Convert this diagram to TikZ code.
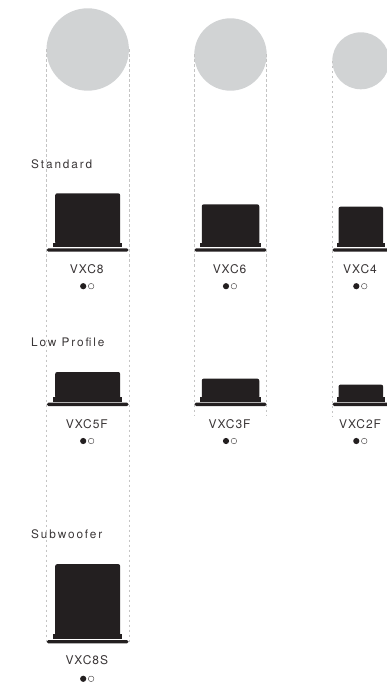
\documentclass[tikz,border=0pt]{standalone}
\usepackage{fontspec}
\setmainfont{TeX Gyre Heros}
\newfontfamily\spaced{TeX Gyre Heros}[LetterSpace=8]
\newfontfamily\widespaced{TeX Gyre Heros}[LetterSpace=16]
\usetikzlibrary{positioning}
\definecolor{ink}{HTML}{231F20}
\definecolor{disc}{HTML}{D1D3D4}
\definecolor{guideline}{HTML}{C4C4C4}
\begin{document}
\begin{tikzpicture}[x=1pt,y=1pt]
            \tikzstyle{cone} = [circle, fill=disc, inner sep=0pt, outer sep=0pt]
            \tikzstyle{plate} = [rectangle, fill=ink, rounded corners=1.7pt, minimum height=3.4pt, inner sep=0pt, outer sep=0pt]
            \tikzstyle{slab} = [rectangle, fill=ink, minimum height=4.6pt, inner sep=0pt, outer sep=0pt]
            \tikzstyle{body} = [rectangle, fill=ink, rounded corners=2pt, inner sep=0pt, outer sep=0pt]
            \tikzstyle{model} = [font=\spaced\fontsize{12}{14}\selectfont, text=ink!90, inner sep=0pt]
            \tikzstyle{series} = [font=\widespaced\fontsize{11.8}{14}\selectfont, text=ink!90, inner sep=0pt, anchor=base west]
            \tikzstyle{dotfull} = [circle, fill=ink, minimum size=6.2pt, inner sep=0pt]
            \tikzstyle{dotopen} = [circle, draw=ink!80, line width=0.45pt, minimum size=5.6pt, inner sep=0pt]
            \tikzstyle{guide} = [guideline, line width=0.5pt, dash pattern=on 2.5pt off 2.5pt]

            \useasboundingbox (0,0) rectangle (387,-684);
            \clip (0,0) rectangle (387,-684);

            % cone sizes
            \node (w8) [cone, minimum size=82.4pt] at (87.7,-49.5) {};
            \node (w6) [cone, minimum size=72.4pt] at (230.5,-54.5) {};
            \node (w4) [cone, minimum size=57pt] at (360.8,-60.8) {};
            \coordinate (stop) at (0,-416);

            % Standard
            \node (std) [series] at (31,-169) {Standard};
            \node (p8) [plate, minimum width=82pt] at (87.7,-250) {};
            \node (s8) [slab, minimum width=69.3pt, above=1pt of p8] {};
            \node (b8) [body, minimum width=65pt, minimum height=51pt, above=-1.6pt of s8] {};
            \node (p6) [plate, minimum width=72.4pt] at (230.5,-250) {};
            \node (s6) [slab, minimum width=60.3pt, above=1pt of p6] {};
            \node (b6) [body, minimum width=57.5pt, minimum height=40pt, above=-1.6pt of s6] {};
            \node (p4) [plate, minimum width=57pt] at (360.8,-250) {};
            \node (s4) [slab, minimum width=48.3pt, above=1pt of p4] {};
            \node (b4) [body, minimum width=44.6pt, minimum height=37.6pt, above=-1.6pt of s4] {};
            \node (l8) [model] at (86.8,-269) {VXC8};
            \node (l6) [model] at (229.6,-269) {VXC6};
            \node (l4) [model] at (360,-269) {VXC4};
            \node (f8) [dotfull] at (83.2,-286.2) {};
            \node (o8) [dotopen, right=1.6pt of f8] {};
            \node (f6) [dotfull] at (226,-286.2) {};
            \node (o6) [dotopen, right=1.6pt of f6] {};
            \node (f4) [dotfull] at (356.3,-286.2) {};
            \node (o4) [dotopen, right=1.6pt of f4] {};

            % Low Profile
            \node (low) [series] at (31,-346.7) {Low Profile};
            \node (p5f) [plate, minimum width=82pt] at (87.7,-404.3) {};
            \node (s5f) [slab, minimum width=69.3pt, above=1pt of p5f] {};
            \node (b5f) [body, minimum width=65pt, minimum height=26.6pt, above=-1.6pt of s5f] {};
            \node (p3f) [plate, minimum width=72.4pt] at (230.5,-404.3) {};
            \node (s3f) [slab, minimum width=60.3pt, above=1pt of p3f] {};
            \node (b3f) [body, minimum width=57.5pt, minimum height=20pt, above=-1.6pt of s3f] {};
            \node (p2f) [plate, minimum width=57pt] at (360.8,-404.3) {};
            \node (s2f) [slab, minimum width=48.3pt, above=1pt of p2f] {};
            \node (b2f) [body, minimum width=44.6pt, minimum height=14pt, above=-1.6pt of s2f] {};
            \node (l5f) [model] at (86.8,-424.5) {VXC5F};
            \node (l3f) [model] at (229.6,-424.5) {VXC3F};
            \node (l2f) [model] at (360,-424.5) {VXC2F};
            \node (f5f) [dotfull] at (83.2,-441) {};
            \node (o5f) [dotopen, right=1.6pt of f5f] {};
            \node (f3f) [dotfull] at (226,-441) {};
            \node (o3f) [dotopen, right=1.6pt of f3f] {};
            \node (f2f) [dotfull] at (356.3,-441) {};
            \node (o2f) [dotopen, right=1.6pt of f2f] {};

            % Subwoofer
            \node (sub) [series] at (31,-538.3) {Subwoofer};
            \node (p8s) [plate, minimum width=82pt] at (87.7,-641.7) {};
            \node (s8s) [slab, minimum width=69.3pt, above=1pt of p8s] {};
            \node (b8s) [body, minimum width=65pt, minimum height=71.9pt, above=-1.6pt of s8s] {};
            \node (l8s) [model] at (86.8,-660.5) {VXC8S};
            \node (f8s) [dotfull] at (83.2,-678.8) {};
            \node (o8s) [dotopen, right=1.6pt of f8s] {};

            % guides
            \draw[guide] (w8.west) -- (w8.west |- p8s.center);
            \draw[guide] (w8.east) -- (w8.east |- p8s.center);
            \draw[guide] (w6.west) -- (w6.west |- stop);
            \draw[guide] (w6.east) -- (w6.east |- stop);
            \draw[guide] (w4.west) -- (w4.west |- stop);
            \draw[guide] (w4.east) -- (w4.east |- stop);
\end{tikzpicture}
\end{document}
